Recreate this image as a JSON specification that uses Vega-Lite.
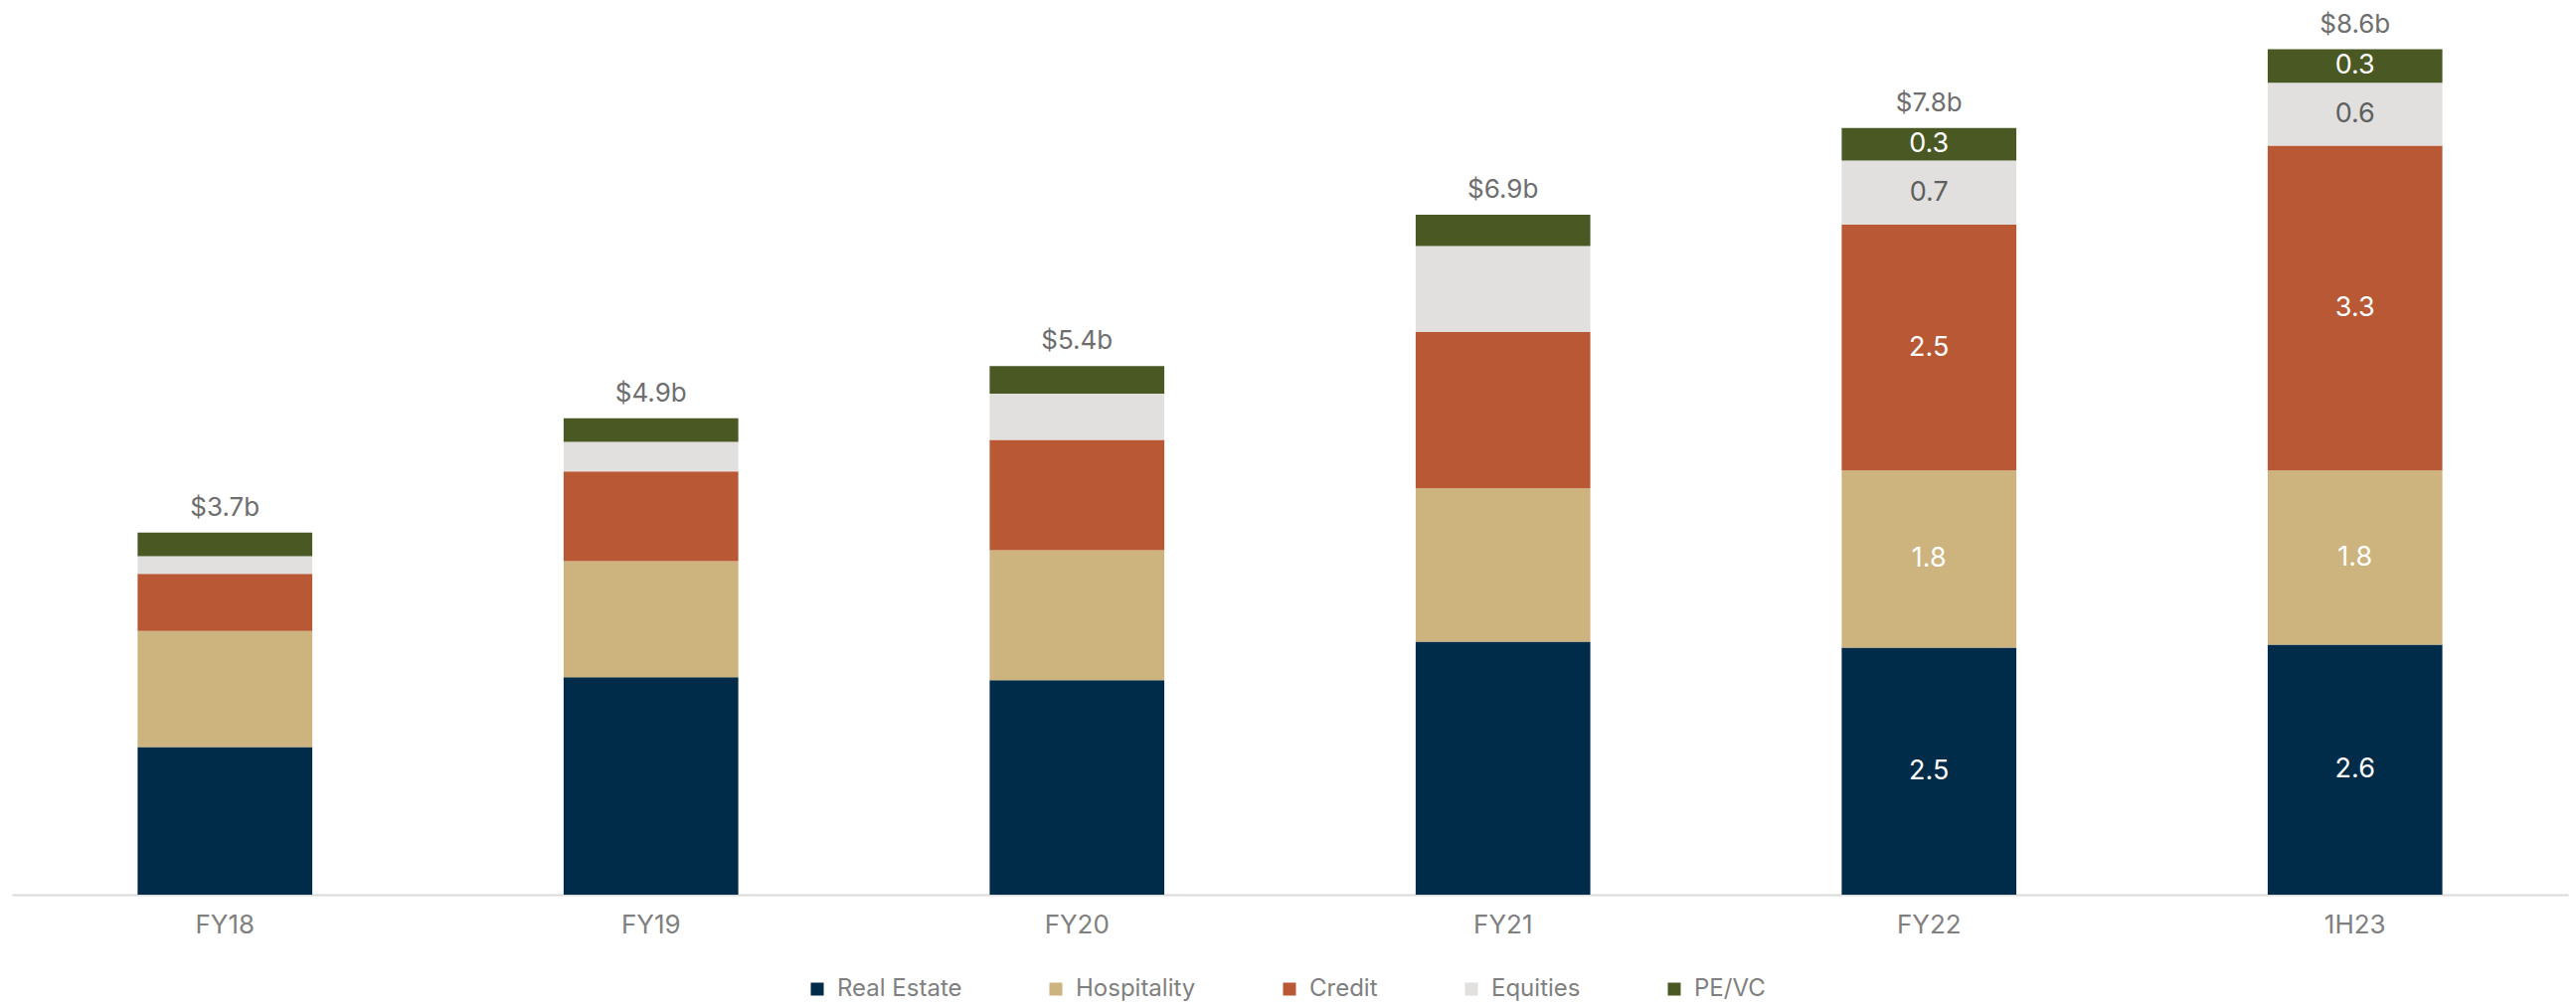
{
  "$schema": "https://vega.github.io/schema/vega-lite/v6.json",
  "width": 2571,
  "height": 891,
  "autosize": {"type": "none"},
  "padding": {"left": 12, "top": 9, "right": 8, "bottom": 113},
  "background": "#ffffff",
  "config": {
    "view": {"stroke": null},
    "font": "Inter",
    "axis": {"grid": false}
  },
  "data": {
    "values": [
      {"cat": "FY18", "series": "Real Estate", "rank": 1, "value": 1.50, "label": "", "total": ""},
      {"cat": "FY18", "series": "Hospitality", "rank": 2, "value": 1.18, "label": "", "total": ""},
      {"cat": "FY18", "series": "Credit", "rank": 3, "value": 0.58, "label": "", "total": ""},
      {"cat": "FY18", "series": "Equities", "rank": 4, "value": 0.18, "label": "", "total": ""},
      {"cat": "FY18", "series": "PE/VC", "rank": 5, "value": 0.24, "label": "", "total": "$3.7b"},
      {"cat": "FY19", "series": "Real Estate", "rank": 1, "value": 2.21, "label": "", "total": ""},
      {"cat": "FY19", "series": "Hospitality", "rank": 2, "value": 1.18, "label": "", "total": ""},
      {"cat": "FY19", "series": "Credit", "rank": 3, "value": 0.91, "label": "", "total": ""},
      {"cat": "FY19", "series": "Equities", "rank": 4, "value": 0.30, "label": "", "total": ""},
      {"cat": "FY19", "series": "PE/VC", "rank": 5, "value": 0.24, "label": "", "total": "$4.9b"},
      {"cat": "FY20", "series": "Real Estate", "rank": 1, "value": 2.18, "label": "", "total": ""},
      {"cat": "FY20", "series": "Hospitality", "rank": 2, "value": 1.32, "label": "", "total": ""},
      {"cat": "FY20", "series": "Credit", "rank": 3, "value": 1.12, "label": "", "total": ""},
      {"cat": "FY20", "series": "Equities", "rank": 4, "value": 0.47, "label": "", "total": ""},
      {"cat": "FY20", "series": "PE/VC", "rank": 5, "value": 0.28, "label": "", "total": "$5.4b"},
      {"cat": "FY21", "series": "Real Estate", "rank": 1, "value": 2.57, "label": "", "total": ""},
      {"cat": "FY21", "series": "Hospitality", "rank": 2, "value": 1.56, "label": "", "total": ""},
      {"cat": "FY21", "series": "Credit", "rank": 3, "value": 1.59, "label": "", "total": ""},
      {"cat": "FY21", "series": "Equities", "rank": 4, "value": 0.87, "label": "", "total": ""},
      {"cat": "FY21", "series": "PE/VC", "rank": 5, "value": 0.32, "label": "", "total": "$6.9b"},
      {"cat": "FY22", "series": "Real Estate", "rank": 1, "value": 2.51, "label": "2.5", "total": ""},
      {"cat": "FY22", "series": "Hospitality", "rank": 2, "value": 1.80, "label": "1.8", "total": ""},
      {"cat": "FY22", "series": "Credit", "rank": 3, "value": 2.50, "label": "2.5", "total": ""},
      {"cat": "FY22", "series": "Equities", "rank": 4, "value": 0.65, "label": "0.7", "total": ""},
      {"cat": "FY22", "series": "PE/VC", "rank": 5, "value": 0.33, "label": "0.3", "total": "$7.8b"},
      {"cat": "1H23", "series": "Real Estate", "rank": 1, "value": 2.54, "label": "2.6", "total": ""},
      {"cat": "1H23", "series": "Hospitality", "rank": 2, "value": 1.77, "label": "1.8", "total": ""},
      {"cat": "1H23", "series": "Credit", "rank": 3, "value": 3.30, "label": "3.3", "total": ""},
      {"cat": "1H23", "series": "Equities", "rank": 4, "value": 0.64, "label": "0.6", "total": ""},
      {"cat": "1H23", "series": "PE/VC", "rank": 5, "value": 0.34, "label": "0.3", "total": "$8.6b"}
    ]
  },
  "transform": [
    {"stack": "value", "groupby": ["cat"], "sort": [{"field": "rank", "order": "ascending"}], "as": ["y0", "y1"]},
    {"calculate": "(datum.y0 + datum.y1) / 2", "as": "ymid"}
  ],
  "encoding": {
    "x": {
      "field": "cat",
      "type": "nominal",
      "sort": null,
      "scale": {"paddingInner": 0.59, "paddingOuter": 0.295},
      "axis": {
        "title": null,
        "labelAngle": 0,
        "labelFontSize": 26,
        "labelColor": "#808080",
        "labelFont": "Inter",
        "labelPadding": 17,
        "ticks": false,
        "tickSize": 0,
        "domainColor": "#d9d9d9",
        "domainWidth": 2
      }
    }
  },
  "layer": [
    {
      "mark": {"type": "bar"},
      "encoding": {
        "y": {"field": "y0", "type": "quantitative", "scale": {"domain": [0, 9], "nice": false, "zero": true}, "axis": null},
        "y2": {"field": "y1"},
        "color": {
          "field": "series",
          "type": "nominal",
          "sort": ["Real Estate", "Hospitality", "Credit", "Equities", "PE/VC"],
          "scale": {
            "domain": ["Real Estate", "Hospitality", "Credit", "Equities", "PE/VC"],
            "range": ["#002b49", "#cdb37e", "#b85835", "#e1e0de", "#4a5823"]
          },
          "legend": {
            "title": null,
            "orient": "none",
            "legendX": 798,
            "legendY": 974,
            "direction": "horizontal",
            "symbolType": "square",
            "symbolSize": 169,
            "symbolStrokeWidth": 0,
            "labelFontSize": 24,
            "labelColor": "#7f7f7f",
            "labelFont": "Inter",
            "labelOffset": 8,
            "columnPadding": 82,
            "padding": 0
          }
        }
      }
    },
    {
      "transform": [{"filter": "datum.label != ''"}],
      "mark": {"type": "text", "fontSize": 27, "baseline": "middle", "align": "center", "font": "Inter"},
      "encoding": {
        "y": {"field": "ymid", "type": "quantitative"},
        "text": {"field": "label"},
        "color": {
          "condition": {"test": "datum.series == 'Equities'", "value": "#5f5f5f"},
          "value": "#ffffff"
        }
      }
    },
    {
      "transform": [{"filter": "datum.total != ''"}],
      "mark": {"type": "text", "fontSize": 26, "baseline": "alphabetic", "align": "center", "dy": -17, "color": "#6e6e6e", "font": "Inter"},
      "encoding": {
        "y": {"field": "y1", "type": "quantitative"},
        "text": {"field": "total"}
      }
    }
  ]
}
